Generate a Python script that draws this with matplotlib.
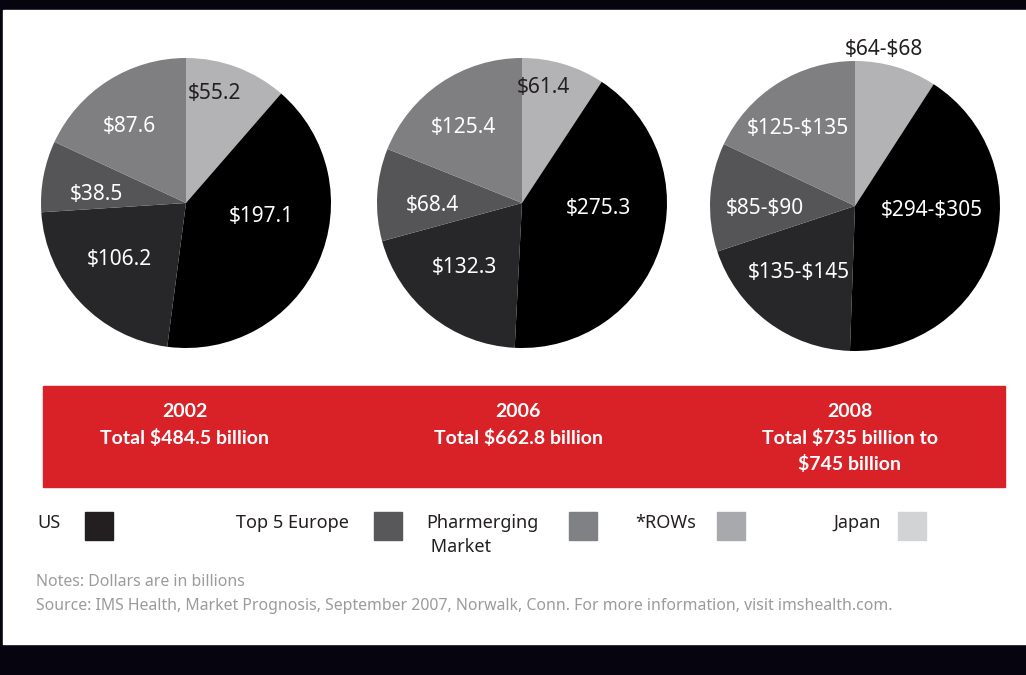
import matplotlib.pyplot as plt
from matplotlib.patches import Rectangle
import numpy as np

# data (billions of dollars)
regions = ['US', 'Top 5 Europe', 'Pharmerging\n Market', '*ROWs', 'Japan']
years = ['2002', '2006', '2008']
sales_2002 = [197.1, 106.2, 38.5, 87.6, 55.2]
sales_2006 = [275.3, 132.3, 68.4, 125.4, 61.4]
sales_2008_low = [294, 135, 85, 125, 64]
sales_2008_high = [305, 145, 90, 135, 68]
totals = ['Total \\$484.5 billion', 'Total \\$662.8 billion',
          'Total \\$735 billion to\n\\$745 billion']
note = 'Notes: Dollars are in billions'
source = ('Source: IMS Health, Market Prognosis, September 2007, Norwalk, Conn. '
          'For more information, visit imshealth.com.')

W, H = 1026, 675
plt.rcParams['font.family'] = ['Noto Sans', 'DejaVu Sans']

pie_colors = ['#000000', '#27272a', '#555557', '#7f7f81', '#b3b3b5']
legend_colors = ['#231f20', '#58585a', '#808184', '#a7a9ac', '#d1d3d4']
label_colors = ['white', 'white', 'white', 'white', '#231f20']
# label placement (fraction of radius, angle nudge in degrees)
label_dist = [0.53, 0.6, 0.62, 0.66, 0.78]
label_nudge = [14, -3, 5, 4, 6]

fig = plt.figure(figsize=(W / 100, H / 100), dpi=100, facecolor='#06040f')
bg = fig.add_axes([0, 0, 1, 1])
bg.set_xlim(0, W)
bg.set_ylim(H, 0)
bg.axis('off')
bg.add_patch(Rectangle((3, 10), W - 3, 634, color='white', zorder=0))


def fmt2008(i):
    return f'\\${sales_2008_low[i]}-\\${sales_2008_high[i]}'


pie_sets = [
    (sales_2002, [f'\\${v}' for v in sales_2002], 186, 203, 0.78),
    (sales_2006, [f'\\${v}' for v in sales_2006], 522, 203, 0.81),
    ([(a + b) / 2 for a, b in zip(sales_2008_low, sales_2008_high)],
     [fmt2008(i) for i in range(5)], 855, 206, 1.1),
]

r = 145
order = [4, 0, 1, 2, 3]  # Japan first from the top, then clockwise
for vals, labels, cx, cy, jdist in pie_sets:
    ax = fig.add_axes([(cx - r) / W, 1 - (cy + r) / H, 2 * r / W, 2 * r / H])
    wedges, _ = ax.pie([vals[i] for i in order], colors=[pie_colors[i] for i in order],
                       startangle=90, counterclock=False, radius=1,
                       wedgeprops=dict(linewidth=0))
    ax.set_xlim(-1, 1)
    ax.set_ylim(-1, 1)
    for w, i in zip(wedges, order):
        mid = np.deg2rad((w.theta1 + w.theta2) / 2 + label_nudge[i])
        d = jdist if i == 4 else label_dist[i]
        ax.text(d * np.cos(mid), d * np.sin(mid), labels[i], ha='center', va='center',
                color=label_colors[i], fontsize=15, clip_on=False)

# red band with totals
bg.add_patch(Rectangle((43, 386), 962, 101, color='#d92128', zorder=1))
for x, yr, tot in zip([185, 518, 850], years, totals):
    bg.text(x, 403, yr + '\n' + tot, ha='center', va='top', color='white',
            fontsize=14, fontweight='bold', linespacing=1.58, zorder=2,
            family=['Lato', 'DejaVu Sans'])

# legend row
text_x = [37, 236, 426, 635, 833]
box_x = [85, 374, 569, 717, 898]
for name, col, tx, bx in zip(regions, legend_colors, text_x, box_x):
    bg.text(tx, 514, name, ha='left', va='top', fontsize=13, color='#231f20',
            linespacing=1.45)
    bg.add_patch(Rectangle((bx, 512), 28, 28, color=col))

bg.text(36, 582, note, ha='left', va='center', fontsize=11.4, color='#9b9b9b')
bg.text(36, 606, source, ha='left', va='center', fontsize=11.4, color='#9b9b9b')

fig.savefig('out.png', dpi=100, facecolor=fig.get_facecolor())
